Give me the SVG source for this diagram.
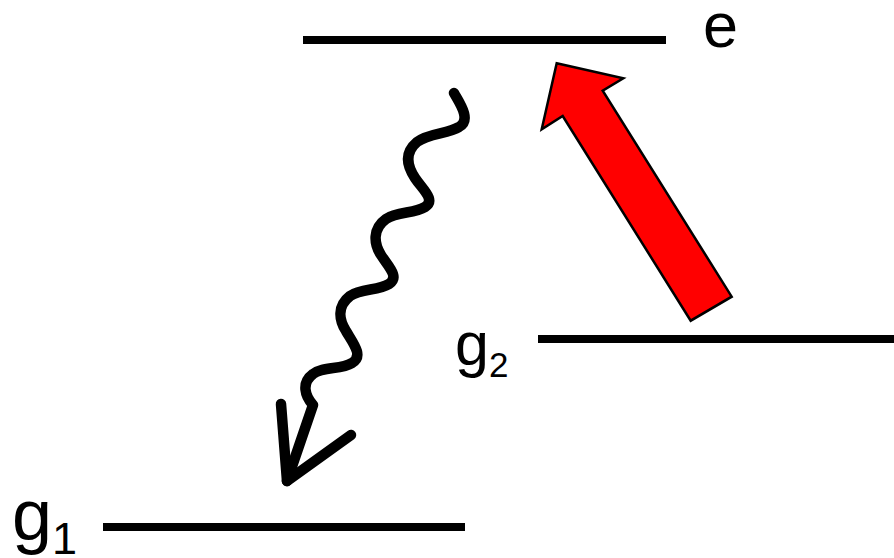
<svg xmlns="http://www.w3.org/2000/svg" width="894" height="558" viewBox="0 0 894 558">
<style>
.lvl{stroke:#000;stroke-width:8;fill:none}
.lbl{font-family:"Liberation Sans",Arial,sans-serif;fill:#000}
.wave{stroke:#000;stroke-width:10.5;fill:none;stroke-linecap:round;stroke-linejoin:round}
</style>
<rect width="894" height="558" fill="#fff"/>
<g id="level-e">
<line class="lvl" x1="303" y1="40" x2="666" y2="40"/>
<text class="lbl" x="703" y="47" font-size="63">e</text>
</g>
<g id="level-g2">
<line class="lvl" x1="538" y1="339" x2="894" y2="339"/>
<text class="lbl" x="455" y="365" font-size="61">g<tspan font-size="35" dy="12">2</tspan></text>
</g>
<g id="level-g1">
<line class="lvl" x1="103" y1="527" x2="465" y2="527"/>
<text class="lbl" x="12" y="540" font-size="72">g<tspan font-size="45" dy="14">1</tspan></text>
</g>
<g id="connectors">
<g id="excitation">
<polygon points="556.7,63.3 623.3,78.3 602.7,90.7 731.7,296.7 690.7,320.7 562.7,116 541.7,129.3" fill="#ff0000" stroke="#000" stroke-width="2.5" stroke-linejoin="miter"/>
</g>
<g id="emission">
<path class="wave" d="M454,93 C459,102 472,120 459,127 C448,134 428,133 417,142 C404,153 407,166 415,178 C423,190 436,200 425,207 C414,214 397,211 386,219 C372,229 374,244 381,255 C388,266 400,277 389,284 C378,291 361,288 350,296 C337,306 339,320 346,331 C353,343 364,356 352,363 C341,370 323,366 313,374 C301,383 305,396 313,405 L287,481"/>
<path class="wave" d="M281,404 L287,481 L351,435"/>
</g>
</g>
</svg>
